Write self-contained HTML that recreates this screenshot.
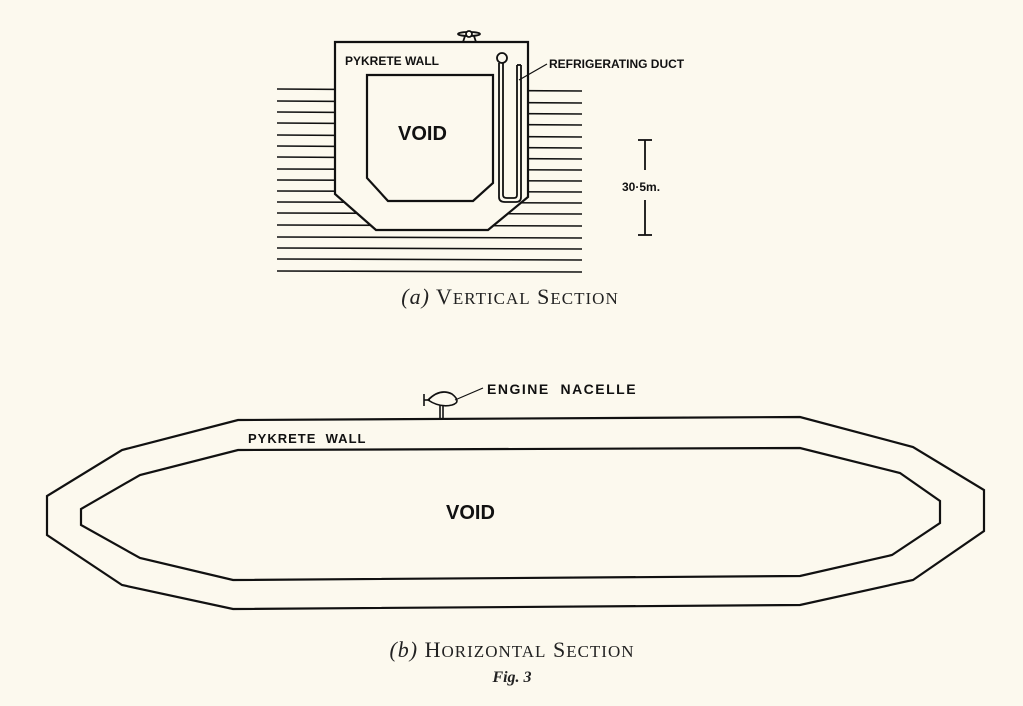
<!DOCTYPE html>
<html><head><meta charset="utf-8"><style>
html,body{margin:0;padding:0;background:#fcf9ee;}
svg{display:block}
.h{font-family:"Liberation Sans",sans-serif;font-weight:bold;fill:#111;}
.c{font-family:"Liberation Serif",serif;fill:#222;}
</style></head><body>
<svg width="1023" height="706" viewBox="0 0 1023 706" xmlns="http://www.w3.org/2000/svg">
<rect width="1023" height="706" fill="#fcf9ee"/>
<g stroke="#111" stroke-width="1.6" fill="none">
<line x1="277" y1="89" x2="582" y2="91"/>
<line x1="277" y1="101" x2="582" y2="103"/>
<line x1="277" y1="112" x2="582" y2="114"/>
<line x1="277" y1="123" x2="582" y2="125"/>
<line x1="277" y1="135" x2="582" y2="137"/>
<line x1="277" y1="146" x2="582" y2="148"/>
<line x1="277" y1="157" x2="582" y2="159"/>
<line x1="277" y1="169" x2="582" y2="170"/>
<line x1="277" y1="180" x2="582" y2="181"/>
<line x1="277" y1="191" x2="582" y2="192"/>
<line x1="277" y1="202" x2="582" y2="203"/>
<line x1="277" y1="213" x2="582" y2="214"/>
<line x1="277" y1="225" x2="582" y2="226"/>
<line x1="277" y1="237" x2="582" y2="238"/>
<line x1="277" y1="248" x2="582" y2="249"/>
<line x1="277" y1="259" x2="582" y2="260"/>
<line x1="277" y1="271" x2="582" y2="272"/>
</g>
<g stroke="#111" stroke-width="2.2" fill="#fcf9ee">
<polygon points="335,42 528,42 528,197 488,230 376,230 335,194"/>
<polygon points="367,75 493,75 493,183 473,201 388,201 367,178"/>
</g>
<g stroke="#111" stroke-width="1.8" fill="none">
<circle cx="502" cy="58" r="5"/>
<path d="M499,63 V197 Q499,202 505,202 H516 Q521,202 521,197 V65"/>
<path d="M503,63 V195 Q503,198 507,198 H514 Q517,198 517,195 V65"/>
<line x1="517" y1="65" x2="521" y2="65"/>
<line x1="519" y1="80" x2="547" y2="64" stroke-width="1.2"/>
<line x1="463" y1="42" x2="465" y2="36"/>
<line x1="476" y1="42" x2="474" y2="36"/>
<ellipse cx="469" cy="34" rx="11" ry="2"/>
<circle cx="469" cy="34" r="3" fill="#fcf9ee"/>
<line x1="645" y1="140" x2="645" y2="170"/>
<line x1="645" y1="200" x2="645" y2="235"/>
<line x1="638" y1="140" x2="652" y2="140"/>
<line x1="638" y1="235" x2="652" y2="235"/>
</g>
<text class="h" x="345" y="65" font-size="12">PYKRETE WALL</text>
<text class="h" x="549" y="68" font-size="12">REFRIGERATING DUCT</text>
<text class="h" x="398" y="140" font-size="20">VOID</text>
<text class="h" x="622" y="191" font-size="12">30·5m.</text>
<text class="c" x="510" y="304" font-size="22" letter-spacing="1" text-anchor="middle"><tspan font-style="italic">(a)</tspan> V<tspan font-size="17">ERTICAL</tspan> S<tspan font-size="17">ECTION</tspan></text>

<g stroke="#111" stroke-width="2.2" fill="none">
<polygon points="238,420 800,417 913,447 984,490 984,531 913,580 800,605 233,609 122,585 47,535 47,496 122,450"/>
<polygon points="238,450 800,448 900,473 940,501 940,523 892,555 800,576 233,580 140,558 81,525 81,509 140,475"/>
</g>
<g stroke="#111" stroke-width="1.6" fill="none">
<line x1="440" y1="405" x2="440" y2="418"/>
<line x1="443" y1="405" x2="443" y2="418"/>
<path d="M428,400 Q440,388 452,394 Q462,402 452,405 Q440,408 428,400 Z"/>
<line x1="424" y1="394" x2="424" y2="406"/>
<line x1="424" y1="400" x2="430" y2="400"/>
<line x1="455" y1="400" x2="483" y2="388" stroke-width="1.2"/>
</g>
<text class="h" x="487" y="394" font-size="14" letter-spacing="1.5">ENGINE&#160;&#160;NACELLE</text>
<text class="h" x="248" y="443" font-size="13" letter-spacing="1">PYKRETE&#160;&#160;WALL</text>
<text class="h" x="446" y="519" font-size="20">VOID</text>
<text class="c" x="512" y="657" font-size="22" letter-spacing="1" text-anchor="middle"><tspan font-style="italic">(b)</tspan> H<tspan font-size="17">ORIZONTAL</tspan> S<tspan font-size="17">ECTION</tspan></text>
<text class="c" x="512" y="682" font-size="16" font-style="italic" font-weight="bold" text-anchor="middle">Fig. 3</text>
</svg>
</body></html>
